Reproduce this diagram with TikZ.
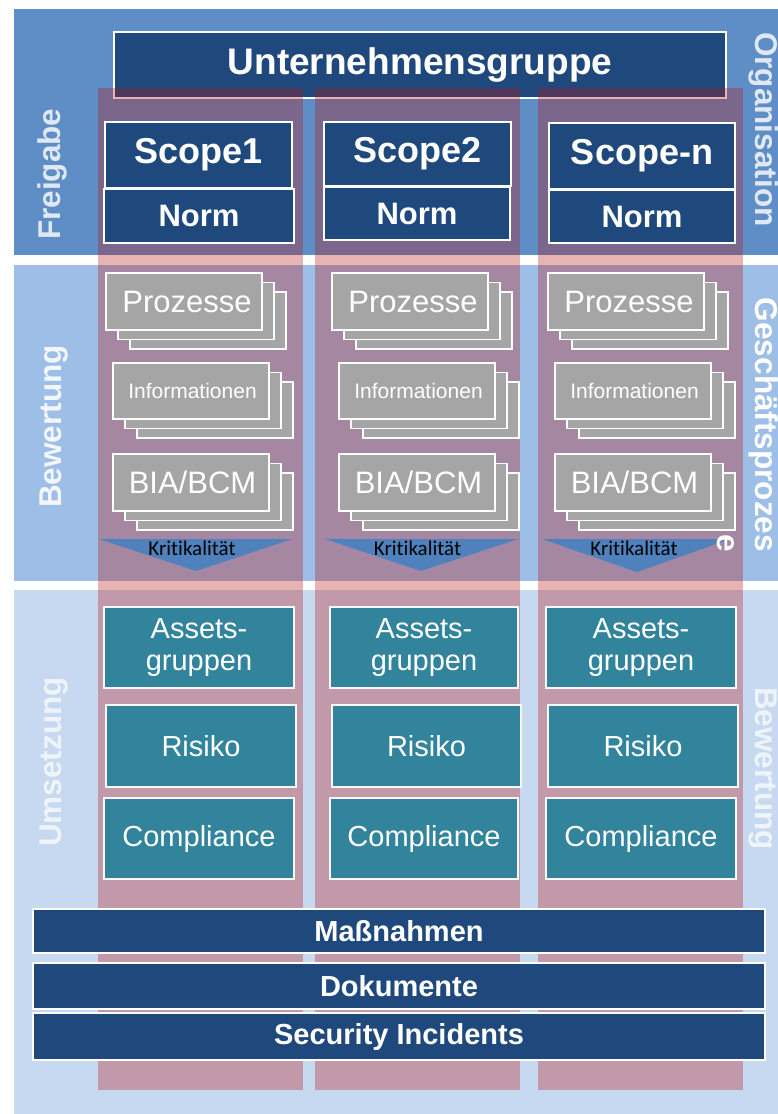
\documentclass[tikz,border=0pt]{standalone}
\usepackage{fontspec}
\setmainfont{Liberation Sans}
\newfontfamily\calib[Ligatures=NoCommon]{Carlito}
\definecolor{bandtop}{RGB}{95,142,198}
\definecolor{bandmid}{RGB}{157,190,230}
\definecolor{bandlow}{RGB}{198,217,240}
\definecolor{dkblue}{RGB}{31,73,125}
\definecolor{greyc}{RGB}{165,165,165}
\definecolor{tealc}{RGB}{49,132,155}
\definecolor{tric}{RGB}{79,129,189}
\definecolor{pinkc}{RGB}{183,20,20}
% box from (x1,y1) to (x2,y2): #1 style, #2 name, #3 x1, #4 y1, #5 x2, #6 y2, #7 text
\newcommand\bx[7]{%
  \pgfmathsetmacro\bxcx{((#3)+(#5))/2}\pgfmathsetmacro\bxcy{((#4)+(#6))/2}%
  \pgfmathsetmacro\bxw{(#5)-(#3)}\pgfmathsetmacro\bxh{(#6)-(#4)}%
  \node[#1, minimum width=\bxw pt, minimum height=\bxh pt] (#2) at (\bxcx,\bxcy) {#7};%
}
\newcommand\gstack[6]{%
  \bx{gbox}{#1-c}{#2+24}{#3+19}{#4+24}{#5+19}{}%
  \bx{gbox}{#1-b}{#2+12}{#3+9.5}{#4+12}{#5+9.5}{}%
  \bx{gbox}{#1}{#2}{#3}{#4}{#5}{#6}%
}
\begin{document}
\begin{tikzpicture}[x=1pt,y=-1pt,
  band/.style={draw=none, inner sep=0pt, outer sep=0pt},
  pcol/.style={fill=pinkc, fill opacity=0.32, draw=none, inner sep=0pt, outer sep=0pt},
  dbox/.style={fill=dkblue, draw=white, line width=2pt, text=white, inner sep=0pt},
  gbox/.style={fill=greyc, draw=white, line width=1.8pt, text=white, inner sep=0pt},
  tbox/.style={fill=tealc, draw=white!94!gray, line width=2pt, text=white, inner sep=0pt,
               align=center, font=\fontsize{29}{32}\selectfont},
  side/.style={inner sep=0pt, font=\bfseries\fontsize{31.5}{36}\selectfont},
  krit/.style={inner sep=0pt, anchor=base, text=black, font=\calib\fontsize{21}{24}\selectfont},
  tri/.style={fill=tric, draw=none}
  ]
\useasboundingbox[fill=white] (0,0) rectangle (778,1114);

% bands
\bx{band, fill=bandtop}{btop}{14}{9}{778}{255}{}
\bx{band, fill=bandmid}{bmid}{14}{265}{778}{581}{}
\bx{band, fill=bandlow}{blow}{14}{590}{778}{1114}{}

% Unternehmensgruppe
\bx{dbox, font=\bfseries\fontsize{37}{42}\selectfont}{ug}{114}{32}{726}{98}{Unternehmensgruppe}

% pink columns
\bx{pcol}{col1}{98}{88}{303}{1090}{}
\bx{pcol}{col2}{315}{88}{520}{1090}{}
\bx{pcol}{col3}{538}{88}{743}{1090}{}

% side labels
\node[side, text=white!80!bandtop, rotate=90, anchor=base west] (lfrei) at (60,240) {Freigabe};
\node[side, text=white!88!bandmid, rotate=90, anchor=base west] (lbew) at (61,508) {Bewertung};
\node[side, text=white!70!bandlow, rotate=90, anchor=base west] (lums) at (61,847) {Umsetzung};
\node[side, text=white!80!bandtop, rotate=-90, anchor=base west] (rorg) at (755,32) {Organisation};
\node[side, text=white, rotate=-90, anchor=base east] (rgp) at (755,552) {Geschäftsprozes};
\node[side, text=white!70!bandlow, rotate=-90, anchor=base west] (rbew) at (755,687) {Bewertung};

% Kritikalitaet triangles
\fill[tri] (99,539) -- (292,539) -- (196,571) -- cycle;
\fill[tri] (325,539) -- (518,539) -- (421,571) -- cycle;
\fill[tri] (542,539) -- (730,539) -- (637,572) -- cycle;
\node[krit] (k1) at (192,555) {Kritikalität};
\node[krit] (k2) at (417.5,555) {Kritikalität};
\node[krit] (k3) at (634,555) {Kritikalität};

\node[side, text=white, rotate=-90, anchor=base east] (rgpe) at (717,552) {e};

% grey stacks
\foreach \o/\n in {0/1,226/2,442/3}{
  \gstack{pr\n}{106+\o}{273}{262+\o}{330}{\fontsize{31}{36}\selectfont\hspace*{6pt}Prozesse}
  \gstack{in\n}{113+\o}{363}{269+\o}{419}{\fontsize{21}{25}\selectfont\hspace*{3pt}Informationen}
  \gstack{bi\n}{113+\o}{454}{269+\o}{511}{\fontsize{31}{36}\selectfont\hspace*{3pt}BIA/BCM}
}

% scopes
\bx{dbox, font=\bfseries\fontsize{36}{42}\selectfont}{s1}{105}{122}{292}{188}{Scope1}
\bx{dbox, font=\bfseries\fontsize{31}{36}\selectfont}{n1}{104}{189}{294}{243}{Norm}
\bx{dbox, font=\bfseries\fontsize{36}{42}\selectfont}{s2}{324}{122}{511}{186}{Scope2}
\bx{dbox, font=\bfseries\fontsize{31}{36}\selectfont}{n2}{324}{187}{510}{240}{Norm}
\bx{dbox, font=\bfseries\fontsize{36}{42}\selectfont}{s3}{549}{123}{735}{189}{Scope-n}
\bx{dbox, font=\bfseries\fontsize{31}{36}\selectfont}{n3}{549}{190}{735}{243}{Norm}

% teal boxes
\bx{tbox}{a1}{104}{607}{294}{688}{Assets-\\gruppen}
\bx{tbox}{r1}{106}{705}{296}{787}{Risiko}
\bx{tbox}{c1}{104}{798}{294}{879}{Compliance}
\bx{tbox}{a2}{330}{607}{518}{688}{Assets-\\gruppen}
\bx{tbox}{r2}{332}{705}{521}{787}{Risiko}
\bx{tbox}{c2}{330}{798}{518}{879}{Compliance}
\bx{tbox}{a3}{546}{607}{736}{688}{Assets-\\gruppen}
\bx{tbox}{r3}{548}{705}{738}{787}{Risiko}
\bx{tbox}{c3}{546}{798}{736}{879}{Compliance}

% bottom bars
\bx{dbox, font=\bfseries\fontsize{29}{33}\selectfont}{mass}{33}{909}{765}{953}{Maßnahmen}
\bx{dbox, font=\bfseries\fontsize{29}{33}\selectfont}{doku}{33}{963}{765}{1009}{Dokumente}
\bx{dbox, font=\bfseries\fontsize{29}{33}\selectfont}{sec}{33}{1013}{765}{1060}{Security Incidents}
\end{tikzpicture}
\end{document}
